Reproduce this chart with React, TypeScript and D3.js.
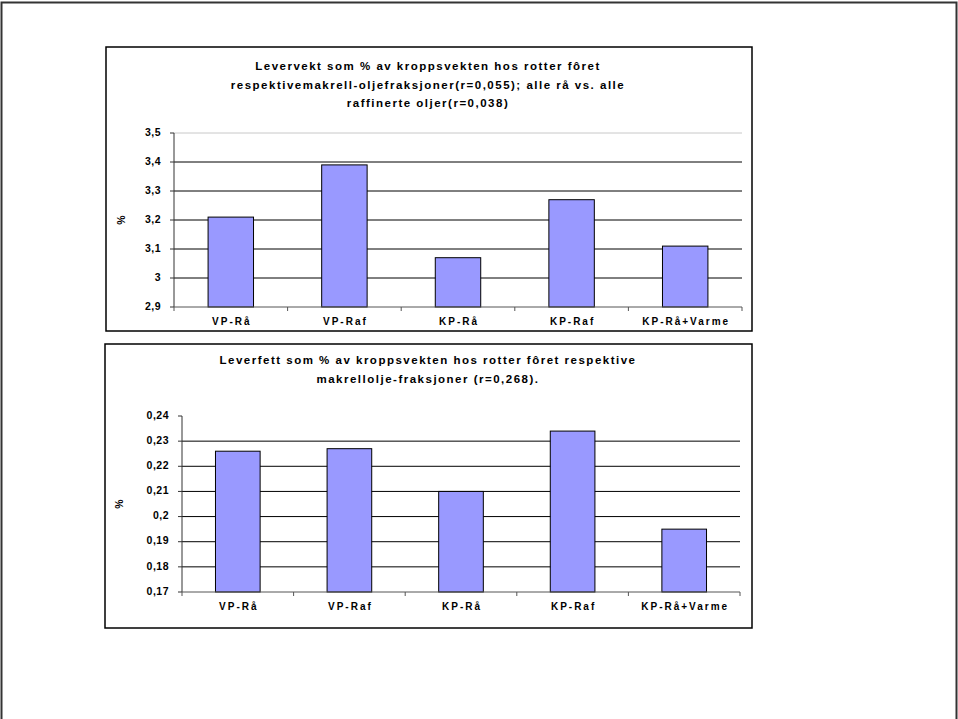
import React from "react";
import * as d3 from "d3";

const categories = ["VP-Rå", "VP-Raf", "KP-Rå", "KP-Raf", "KP-Rå+Varme"];
const liverWeight = [3.21, 3.39, 3.07, 3.27, 3.11];
const liverFat = [0.226, 0.227, 0.21, 0.234, 0.195];
const ticks1 = [2.9, 3.0, 3.1, 3.2, 3.3, 3.4, 3.5];
const ticks2 = [0.17, 0.18, 0.19, 0.2, 0.21, 0.22, 0.23, 0.24];
const title1 = [
  "Levervekt som % av kroppsvekten hos rotter fôret",
  "respektivemakrell-oljefraksjoner(r=0,055); alle rå vs. alle",
  "raffinerte oljer(r=0,038)",
];
const title2 = [
  "Leverfett som % av kroppsvekten hos rotter fôret respektive",
  "makrellolje-fraksjoner (r=0,268).",
];

const fmt = (v: number) => String(+v.toFixed(3)).replace(".", ",");

type ChartProps = {
  box: [number, number, number, number];
  plot: [number, number, number, number];
  values: number[];
  ticks: number[];
  title: string[];
  titleY: number;
  yLabelX: number;
  topGrid: "gray" | "none";
};

function Chart({ box, plot, values, ticks, title, titleY, yLabelX, topGrid }: ChartProps) {
  const [bx, by, bw, bh] = box;
  const [px0, py0, px1, py1] = plot;
  const y = d3.scaleLinear().domain([ticks[0], ticks[ticks.length - 1]]).range([py1, py0]);
  const x = d3.scaleBand<string>().domain(categories).range([px0, px1]).paddingInner(0.6).paddingOuter(0.3);
  const band = (px1 - px0) / categories.length;
  const font = "'Liberation Sans', Arial, sans-serif";
  return (
    <g>
      <rect x={bx} y={by} width={bw} height={bh} fill="white" stroke="black" strokeWidth={1.5} />
      {title.map((t, i) => (
        <text key={i} x={428} y={titleY + i * 18.5} textAnchor="middle" fontFamily={font}
          fontWeight="bold" fontSize={11.5} letterSpacing={1.5} dominantBaseline="middle">{t}</text>
      ))}
      {ticks.slice(1).map((t, i) => {
        const last = i === ticks.length - 2;
        if (last && topGrid === "none") return null;
        return (
          <line key={t} x1={px0} x2={px1} y1={y(t)} y2={y(t)}
            stroke={last ? "#c8c8c8" : "black"} strokeWidth={1} />
        );
      })}
      {values.map((v, i) => (
        <rect key={i} x={x(categories[i])!} y={y(v)} width={x.bandwidth()} height={py1 - y(v)}
          fill="#9999FF" stroke="black" strokeWidth={1} />
      ))}
      <line x1={px0} x2={px0} y1={py0} y2={py1} stroke="#333" strokeWidth={1} />
      <line x1={px0} x2={px1} y1={py1} y2={py1} stroke="#555" strokeWidth={1} />
      {ticks.map((t) => (
        <g key={t}>
          <line x1={px0 - 4} x2={px0} y1={y(t)} y2={y(t)} stroke="#333" />
          <text x={px0 - 13} y={y(t)} textAnchor="end" dominantBaseline="middle" fontFamily={font}
            fontWeight="bold" fontSize={10.5} letterSpacing={0.5}>{fmt(t)}</text>
        </g>
      ))}
      {d3.range(categories.length + 1).map((i) => (
        <line key={i} x1={px0 + i * band} x2={px0 + i * band} y1={py1} y2={py1 + 4} stroke="#555" />
      ))}
      {categories.map((c) => (
        <text key={c} x={x(c)! + x.bandwidth() / 2 + 1} y={py1 + 15} textAnchor="middle" dominantBaseline="middle"
          fontFamily={font} fontWeight="bold" fontSize={10} letterSpacing={2}>{c}</text>
      ))}
      <text transform={`translate(${yLabelX},${(py0 + py1) / 2}) rotate(-90)`} textAnchor="middle"
        dominantBaseline="middle" fontFamily={font} fontWeight="bold" fontSize={10.5}>%</text>
    </g>
  );
}

export default function App() {
  return (
    <svg width={958} height={719} style={{ position: "absolute", left: 0, top: 0 }}>
      <rect x={0} y={0} width={958} height={719} fill="white" />
      <path d="M1.5,740 V2.5 H956.5 V740" fill="none" stroke="#333" strokeWidth={2} />
      <Chart box={[106, 47, 646, 284]} plot={[174, 133, 742, 307]} values={liverWeight} ticks={ticks1}
        title={title1} titleY={67} yLabelX={122} topGrid="gray" />
      <Chart box={[105, 344, 647, 284]} plot={[182, 416, 740, 592]} values={liverFat} ticks={ticks2}
        title={title2} titleY={361} yLabelX={120} topGrid="none" />
    </svg>
  );
}
